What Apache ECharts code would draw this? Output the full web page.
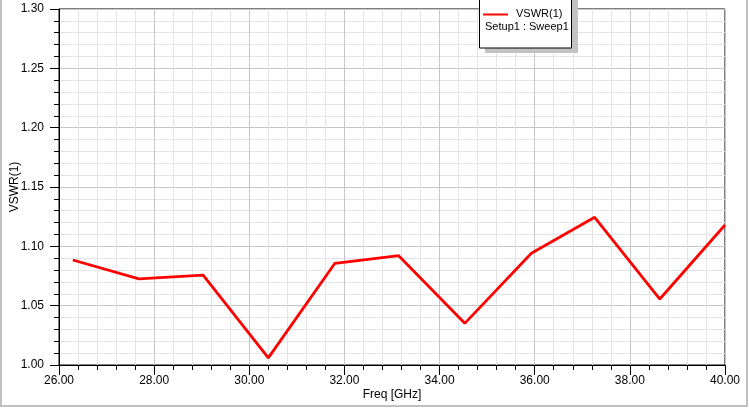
<!DOCTYPE html>
<html>
<head>
<meta charset="utf-8">
<script src="https://cdn.jsdelivr.net/npm/echarts@6/dist/echarts.min.js"></script>
<style>html,body{margin:0;padding:0;background:#fff;}#c{width:749px;height:408px;}</style>
</head>
<body>
<div id="c"></div>
<script>
var freq = [26.29, 27.68, 29.03, 30.40, 31.80, 33.14, 34.53, 35.93, 37.26, 38.63, 40.00];
var vswr = [1.0885, 1.0725, 1.0758, 1.0060, 1.0857, 1.0921, 1.0351, 1.0941, 1.1245, 1.0556, 1.1180];
var seriesName = 'VSWR(1)';
var legendSub = 'Setup1 : Sweep1';
var xName = 'Freq [GHz]';
var yName = 'VSWR(1)';

var chart = echarts.init(document.getElementById('c'));
var font = '"Liberation Sans", Arial, sans-serif';
chart.setOption({
  animation: false,
  grid: {left: 59, right: 24, top: 9, bottom: 43, containLabel: false, outerBoundsMode: 'none', show: true, borderColor: '#000', borderWidth: 1, backgroundColor: 'transparent'},
  xAxis: {
    type: 'value', min: 26, max: 40, interval: 2,
    name: xName, nameLocation: 'middle', nameGap: 24, nameMoveOverlap: false,
    nameTextStyle: {color: '#000', fontSize: 12, fontFamily: font},
    axisLine: {show: true, lineStyle: {color: '#000', width: 1}},
    axisTick: {show: true, inside: false, length: 10, lineStyle: {color: '#000', width: 1}},
    minorTick: {show: true, splitNumber: 5, length: 5, lineStyle: {color: '#000', width: 1}},
    axisLabel: {color: '#000', fontSize: 12, fontFamily: font, margin: 10, formatter: function(v){return v.toFixed(2);}},
    splitLine: {show: true, lineStyle: {color: '#c6c6c6', width: 1}},
    minorSplitLine: {show: true, lineStyle: {color: '#e4e4e4', width: 1}}
  },
  yAxis: {
    type: 'value', min: 1.0, max: 1.3, interval: 0.05,
    name: yName, nameLocation: 'middle', nameGap: 38, nameMoveOverlap: false,
    nameTextStyle: {color: '#000', fontSize: 12, fontFamily: font},
    axisLine: {show: true, lineStyle: {color: '#000', width: 1}},
    axisTick: {show: true, inside: false, length: 9, lineStyle: {color: '#000', width: 1}},
    minorTick: {show: true, splitNumber: 5, length: 5, lineStyle: {color: '#000', width: 1}},
    axisLabel: {color: '#000', fontSize: 12, fontFamily: font, margin: 15, formatter: function(v){return v.toFixed(2);}},
    splitLine: {show: true, lineStyle: {color: '#c6c6c6', width: 1}},
    minorSplitLine: {show: true, lineStyle: {color: '#e4e4e4', width: 1}}
  },
  series: [{
    name: seriesName, type: 'line', showSymbol: false, symbol: 'none',
    data: freq.map(function(f, i){ return [f, vswr[i]]; }),
    lineStyle: {color: '#ff0000', width: 2.8}, z: 5
  }],
  graphic: [
    {type: 'polyline', shape: {points: [[1, 0], [1, 406], [747, 406], [747, 0]]}, style: {stroke: '#c0c0c0', lineWidth: 2, fill: null}, silent: true},
    {type: 'rect', shape: {x: 485, y: -3, width: 93, height: 56}, style: {fill: '#c3c3c3'}, z: 10},
    {type: 'rect', shape: {x: 479.5, y: -3, width: 92, height: 51}, style: {fill: '#fff', stroke: '#000', lineWidth: 1}, z: 11},
    {type: 'line', shape: {x1: 483, y1: 14.5, x2: 508, y2: 14.5}, style: {stroke: '#ff0000', lineWidth: 2}, z: 12},
    {type: 'text', x: 516, y: 14, style: {text: seriesName, fill: '#000', font: '11px ' + font, verticalAlign: 'middle'}, z: 12},
    {type: 'text', x: 485, y: 27, style: {text: legendSub, fill: '#000', font: '11px ' + font, verticalAlign: 'middle'}, z: 12}
  ]
});
</script>
</body>
</html>
